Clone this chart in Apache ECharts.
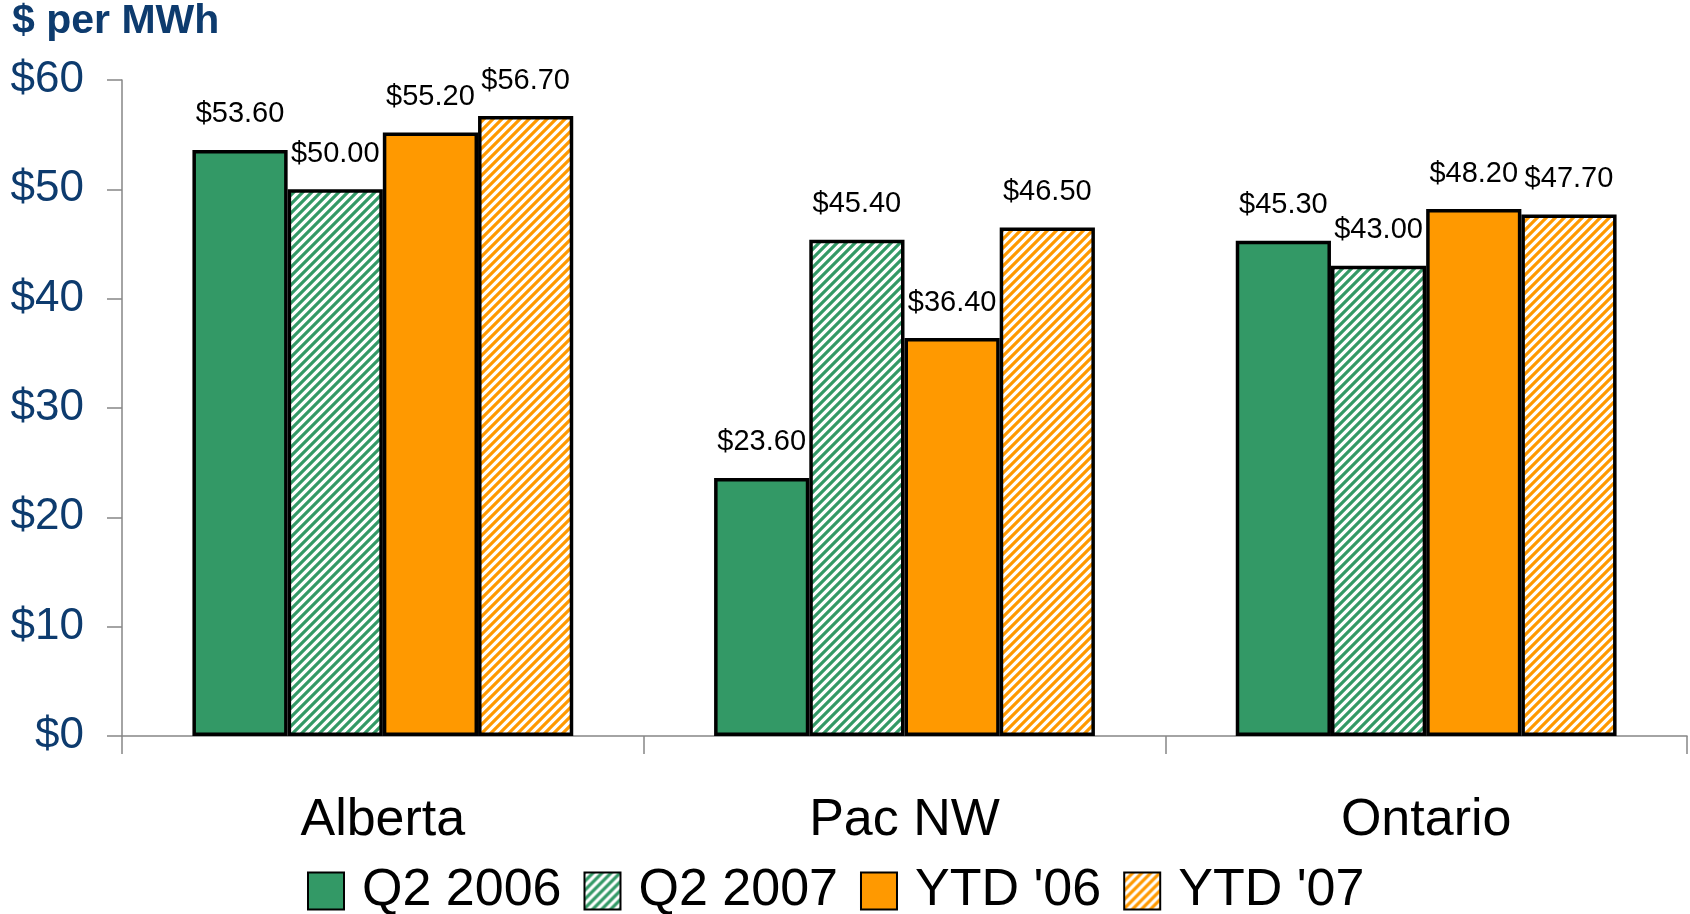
<!DOCTYPE html>
<html>
<head>
<meta charset="utf-8">
<script src="https://cdn.jsdelivr.net/npm/echarts@6/dist/echarts.min.js"></script>
<style>
  html, body { margin: 0; padding: 0; background: #ffffff; }
  #chart { width: 1690px; height: 914px; }
</style>
</head>
<body>
<div id="chart"></div>
<script>
// Average power prices by region, $ per MWh
const regions = ['Alberta', 'Pac NW', 'Ontario'];
const seriesNames = ['Q2 2006', 'Q2 2007', "YTD '06", "YTD '07"];
const q2_2006 = [53.60, 23.60, 45.30];
const q2_2007 = [50.00, 45.40, 43.00];
const ytd06 = [55.20, 36.40, 48.20];
const ytd07 = [56.70, 46.50, 47.70];
const yTicks = [0, 10, 20, 30, 40, 50, 60];

const GREEN = '#339966';
const ORANGE = '#FF9900';
const NAVY = '#0D3B6E';
const FONT = '"Liberation Sans", Arial, sans-serif';

// diagonal "/" hatch tile for the 2007 series
function hatch(color) {
  const p = 9;
  const c = document.createElement('canvas');
  c.width = p; c.height = p;
  const ctx = c.getContext('2d');
  ctx.fillStyle = '#ffffff';
  ctx.fillRect(0, 0, p, p);
  ctx.strokeStyle = color;
  ctx.lineWidth = 3.2;
  ctx.beginPath();
  ctx.moveTo(-1, p + 1); ctx.lineTo(p + 1, -1);
  ctx.moveTo(-p / 2 - 1, p / 2 + 1); ctx.lineTo(p / 2 + 1, -p / 2 - 1);
  ctx.moveTo(p / 2 - 1, 3 * p / 2 + 1); ctx.lineTo(3 * p / 2 + 1, p / 2 - 1);
  ctx.stroke();
  return { image: c, repeat: 'repeat' };
}

function makeSeries(name, data, fill) {
  return {
    name: name,
    type: 'bar',
    data: data,
    barGap: '0%',
    barCategoryGap: '27%',
    itemStyle: { color: fill, borderColor: '#000000', borderWidth: 3.5 },
    label: {
      show: true,
      position: 'top',
      distance: 21,
      color: '#000000',
      fontFamily: FONT,
      fontSize: 29,
      formatter: p => '$' + p.value.toFixed(2)
    }
  };
}

const chart = echarts.init(document.getElementById('chart'), null, { renderer: 'canvas' });
chart.setOption({
  backgroundColor: '#ffffff',
  animation: false,
  title: {
    text: '$ per MWh',
    left: 7,
    top: -4,
    textStyle: { fontFamily: FONT, fontWeight: 'bold', fontSize: 41, color: NAVY }
  },
  grid: { left: 122, right: 3, top: 80, bottom: 178 },
  legend: {
    left: 302,
    top: 860,
    itemWidth: 36,
    itemHeight: 37,
    itemGap: 22,
    icon: 'rect',
    textStyle: { fontFamily: FONT, fontSize: 52, color: '#000000', padding: [0, 0, 0, 13] },
    data: seriesNames
  },
  xAxis: {
    type: 'category',
    data: regions,
    axisLine: { lineStyle: { color: '#868686', width: 1.5 } },
    axisTick: { show: true, length: 18, lineStyle: { color: '#868686', width: 1.5 } },
    axisLabel: { fontFamily: FONT, fontSize: 52, color: '#000000', margin: 59 }
  },
  yAxis: {
    type: 'value',
    min: yTicks[0],
    max: yTicks[yTicks.length - 1],
    interval: 10,
    axisLine: { show: true, lineStyle: { color: '#868686', width: 1.5 } },
    axisTick: { show: true, length: 15, lineStyle: { color: '#868686', width: 1.5 } },
    splitLine: { show: false },
    axisLabel: {
      fontFamily: FONT, fontSize: 44, color: NAVY, margin: 38,
      formatter: v => '$' + v
    }
  },
  series: [
    makeSeries(seriesNames[0], q2_2006, GREEN),
    makeSeries(seriesNames[1], q2_2007, hatch(GREEN)),
    makeSeries(seriesNames[2], ytd06, ORANGE),
    makeSeries(seriesNames[3], ytd07, hatch(ORANGE))
  ]
});
</script>
</body>
</html>
